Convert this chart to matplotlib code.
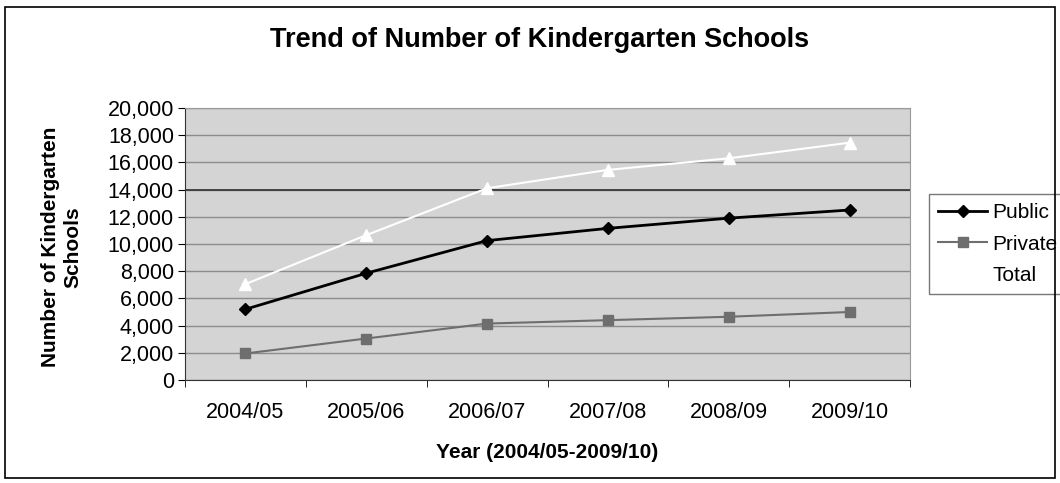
import matplotlib.pyplot as plt
from matplotlib.patches import Rectangle

plt.rcParams['font.family'] = ['Liberation Sans', 'DejaVu Sans']

years = ["2004/05", "2005/06", "2006/07", "2007/08", "2008/09", "2009/10"]
public = [5200, 7850, 10250, 11150, 11900, 12500]
private = [1950, 3050, 4150, 4400, 4650, 5000]
total = [7050, 10650, 14100, 15450, 16300, 17450]

fig = plt.figure(figsize=(10.6, 4.83), dpi=100)
fig.patches.append(Rectangle((0.005, 0.01), 0.99, 0.975, transform=fig.transFigure,
                             fill=False, edgecolor='black', linewidth=1.2))

ax = fig.add_axes([185 / 1060, 1 - 380 / 483, 725 / 1060, 272 / 483])
ax.set_facecolor('#d4d4d4')
x = list(range(len(years)))

ax.plot(x, public, color='black', lw=2, marker='D', ms=6, label='Public', zorder=4)
ax.plot(x, private, color='#6e6e6e', lw=1.5, marker='s', ms=7, label='Private', zorder=4)
ax.plot(x, total, color='white', lw=1.5, marker='^', ms=8, label='Total', zorder=4)

ax.set_xlim(-0.5, len(years) - 0.5)
ax.set_ylim(0, 20000)
ax.set_yticks(range(0, 20001, 2000))
ax.set_yticklabels([f"{v:,}" for v in range(0, 20001, 2000)], fontsize=15.5)
ax.set_xticks(x)
ax.set_xticklabels(years, fontsize=15.5)
ax.set_xticks([i + 0.5 for i in range(-1, len(years))], minor=True)
ax.tick_params(axis='x', which='major', length=0, pad=16)
ax.tick_params(axis='x', which='minor', length=5, direction='out')
ax.tick_params(axis='y', length=5, direction='out', pad=3)

ax.grid(axis='y', color='#8c8c8c', lw=1)
ax.axhline(14000, color='#3a3a3a', lw=1.3, zorder=2)
ax.set_axisbelow(True)
for side in ['top', 'right']:
    ax.spines[side].set_color('#9a9a9a')
ax.spines['left'].set_color('#333333')
ax.spines['bottom'].set_color('#333333')

ax.set_xlabel("Year (2004/05-2009/10)", fontsize=15, fontweight='bold', labelpad=14)
ax.set_ylabel("Number of Kindergarten\nSchools", fontsize=15, fontweight='bold')
ax.yaxis.set_label_coords(-0.142, 0.49)
fig.text(540 / 1060, 1 - 40 / 483, "Trend of Number of Kindergarten Schools",
         ha='center', va='center', fontsize=19.5, fontweight='bold')

leg = ax.legend(loc='center left', bbox_to_anchor=(1.026, 0.5), borderaxespad=0,
                fontsize=15, frameon=True, fancybox=False, edgecolor='#555555',
                borderpad=0.45, handlelength=2.35, handletextpad=0.25, labelspacing=0.6)
leg.get_frame().set_linewidth(1)

fig.savefig("out.png", dpi=100)
